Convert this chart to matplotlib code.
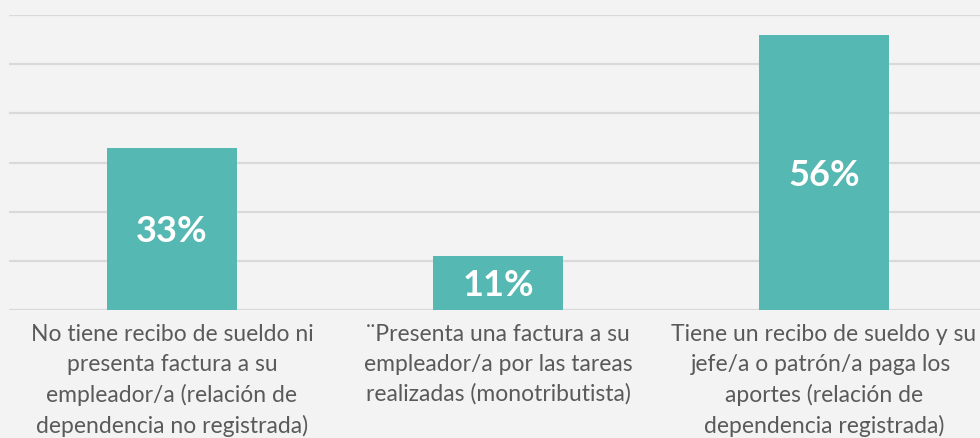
import matplotlib
matplotlib.use("Agg")
from matplotlib import pyplot as plt

# chart data
categories = [
    "No tiene recibo de sueldo ni\npresenta factura a su\nempleador/a (relación de\ndependencia no registrada)",
    "¨Presenta una factura a su\nempleador/a por las tareas\nrealizadas (monotributista)",
    "Tiene un recibo de sueldo y su\njefe/a o patrón/a paga los \naportes (relación de\ndependencia registrada)",
]
values = [33, 11, 56]
grid_ticks = [0, 10, 20, 30, 40, 50, 60]

bar_color = "#56b8b2"
bg_color = "#f3f3f3"
text_color = "#5a5a5a"

plt.rcParams["font.family"] = ["Lato", "DejaVu Sans"]

fig = plt.figure(figsize=(9.8, 4.39), dpi=100, facecolor=bg_color)
ax = fig.add_axes([9 / 980, 1 - 311 / 439, 978 / 980, 295 / 439])
ax.set_facecolor(bg_color)

x = list(range(len(values)))
ax.bar(x, values, width=0.4, color=bar_color, zorder=3)

for xi, v in zip(x, values):
    ax.text(xi, v / 2 - 0.4, f"{v}%", ha="center", va="center", color="white",
            fontsize=26, fontweight="bold", zorder=4)

ax.set_xlim(-0.5, 2.5)
ax.set_ylim(0, 60)
ax.set_yticks(grid_ticks)
ax.yaxis.grid(True, color="#d9d9d9", linewidth=1.6, zorder=0)
ax.tick_params(axis="y", left=False, labelleft=False)
ax.tick_params(axis="x", bottom=False, pad=6)
ax.set_xticks(x)
ax.set_xticklabels(categories, fontsize=16.5, color=text_color, linespacing=1.5)
ax.set_axisbelow(True)
for s in ax.spines.values():
    s.set_visible(False)

fig.savefig("out.png", dpi=100, facecolor=bg_color)
